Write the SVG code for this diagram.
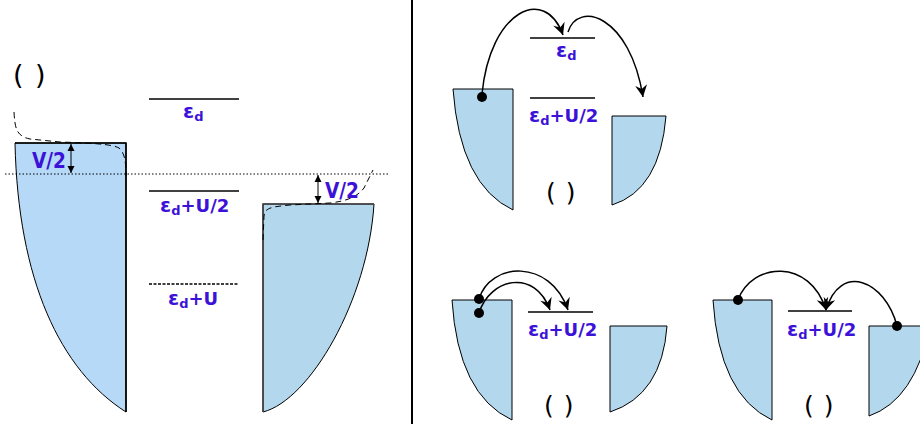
<svg xmlns="http://www.w3.org/2000/svg" width="920" height="428" viewBox="0 0 920 428">
<style>
.res{fill:#b3d7ec;stroke:#000;stroke-width:1}
.resL{fill:#b5d9f6;stroke:#000;stroke-width:1}
.lvl{stroke:#000;stroke-width:1.6;fill:none}
.lab{font-family:"DejaVu Sans",sans-serif;font-weight:bold;font-size:18px;fill:#3c12d8}
.eps{font-size:20px}
.sub{font-size:13px}
.par{font-family:"DejaVu Sans",sans-serif;font-size:25px;fill:#000}
.arr{fill:none;stroke:#000;stroke-width:1.5;marker-end:url(#ah)}
.dot{fill:#000}
.fermi{fill:none;stroke:#000;stroke-width:1;stroke-dasharray:6 4}
</style>
<defs>
<marker id="ah" viewBox="-13 -7 14 14" refX="0" refY="0" markerWidth="14" markerHeight="14" markerUnits="userSpaceOnUse" orient="auto">
<path d="M0,0 L-12,-6 L-8,0 L-12,6 Z" fill="#000"/>
</marker>
<marker id="sh" viewBox="-7 -4 8 8" refX="0" refY="0" markerWidth="8" markerHeight="8" markerUnits="userSpaceOnUse" orient="auto-start-reverse">
<path d="M0,0 L-7,-3.5 L-7,3.5 Z" fill="#000"/>
</marker>
</defs>
<rect width="920" height="428" fill="#fff"/>

<g id="divider"><line x1="412" y1="0" x2="412" y2="424" stroke="#000" stroke-width="2"/></g>

<!-- Left panel -->
<g id="panel-left">
<text class="par" x="13" y="84" style="font-size:27px" word-spacing="3">( )</text>
<g id="lead-left">
<path class="resL" d="M15,143 L126,143 L126,412 C60,370 18,280 15,143 Z"/>
<path d="M15,143 L126,143 L126,412" fill="none" stroke="#000" stroke-width="1.6"/>
</g>
<g id="lead-right">
<path class="res" d="M263,204 L374,204 C368,300 310,400 263,412 Z"/>
<path d="M263,412 L263,204 L374,204" fill="none" stroke="#444" stroke-width="1.6"/>
</g>
<line x1="5" y1="174" x2="390" y2="174" stroke="#000" stroke-width="1" stroke-dasharray="1.5 2"/>
<path class="fermi" d="M14,112 C15,128 16,136 30,139 L60,142 C90,143 112,144 119,148 C125,153 126,163 126,176"/>
<path class="fermi" d="M263,240 L264,216 C265,208 270,207 290,205 L330,203 C348,201 358,196 364,188 L373,170"/>
<line x1="71" y1="144" x2="71" y2="173" stroke="#000" stroke-width="1" marker-start="url(#sh)" marker-end="url(#sh)"/>
<line x1="318" y1="175" x2="318" y2="203" stroke="#000" stroke-width="1" marker-start="url(#sh)" marker-end="url(#sh)"/>
<text class="lab" x="32" y="168" style="font-size:21px" textLength="34" lengthAdjust="spacingAndGlyphs">V/2</text>
<text class="lab" x="325" y="198" style="font-size:21px" textLength="34" lengthAdjust="spacingAndGlyphs">V/2</text>
<g id="level-ed">
<line class="lvl" x1="149" y1="99" x2="239" y2="99"/>
<text class="lab" x="183" y="118"><tspan class="eps">ε</tspan><tspan class="sub" dy="3">d</tspan></text>
</g>
<g id="level-edU2">
<line class="lvl" x1="149" y1="191" x2="239" y2="191"/>
<text class="lab" x="160" y="212"><tspan class="eps">ε</tspan><tspan class="sub" dy="3">d</tspan><tspan dy="-3">+U/2</tspan></text>
</g>
<g id="level-edU">
<line x1="149" y1="284" x2="239" y2="284" stroke="#000" stroke-width="1.6" stroke-dasharray="3 1.5"/>
<text class="lab" x="168" y="305"><tspan class="eps">ε</tspan><tspan class="sub" dy="3">d</tspan><tspan dy="-3">+U</tspan></text>
</g>
</g>

<!-- Panel top right -->
<g id="panel-top">
<path class="res" d="M453,89 L513,89 L513,210 Q460,185 453,89 Z"/>
<path class="res" d="M612,116 L666,116 Q660,190 612,205 Z"/>
<line class="lvl" x1="530" y1="38" x2="595" y2="38"/>
<text class="lab" x="556" y="57"><tspan class="eps">ε</tspan><tspan class="sub" dy="3">d</tspan></text>
<line class="lvl" x1="530" y1="98" x2="595" y2="98"/>
<text class="lab" x="529" y="122"><tspan class="eps">ε</tspan><tspan class="sub" dy="3">d</tspan><tspan dy="-3">+U/2</tspan></text>
<circle class="dot" cx="482" cy="97" r="5"/>
<g id="conn-top">
<path class="arr" d="M482,94 C490,10 545,-15 563,35"/>
<path class="arr" d="M568,32 C578,0 630,15 643,97"/>
</g>
<text class="par" x="546" y="201" word-spacing="2">( )</text>
</g>

<!-- Panel bottom left -->
<g id="panel-bl">
<path class="res" d="M452,300 L512,300 L512,420 Q458,395 452,300 Z"/>
<path class="res" d="M610,326 L667,326 Q662,395 610,412 Z"/>
<line class="lvl" x1="528" y1="312" x2="593" y2="312"/>
<text class="lab" x="528" y="336"><tspan class="eps">ε</tspan><tspan class="sub" dy="3">d</tspan><tspan dy="-3">+U/2</tspan></text>
<g id="conn-bl">
<path class="arr" d="M479,299 C490,262 550,258 568,310"/>
<path class="arr" d="M479,313 C490,278 535,268 550,310"/>
</g>
<circle class="dot" cx="479" cy="299" r="5"/>
<circle class="dot" cx="479" cy="313" r="5"/>
<text class="par" x="544" y="414" word-spacing="2">( )</text>
</g>

<!-- Panel bottom right -->
<g id="panel-br">
<path class="res" d="M713,300 L772,300 L772,420 Q719,395 713,300 Z"/>
<path class="res" d="M930,326 L869,326 L869,416 Q915,400 930,326 Z"/>
<line class="lvl" x1="788" y1="311" x2="852" y2="311"/>
<text class="lab" x="787" y="336"><tspan class="eps">ε</tspan><tspan class="sub" dy="3">d</tspan><tspan dy="-3">+U/2</tspan></text>
<g id="conn-br">
<path class="arr" d="M738,300 C752,262 810,258 826,310"/>
<path class="arr" d="M897,326 C885,280 840,262 826,310"/>
</g>
<circle class="dot" cx="738" cy="300" r="5"/>
<circle class="dot" cx="897" cy="326" r="5"/>
<text class="par" x="804" y="414" word-spacing="2">( )</text>
</g>
</svg>
